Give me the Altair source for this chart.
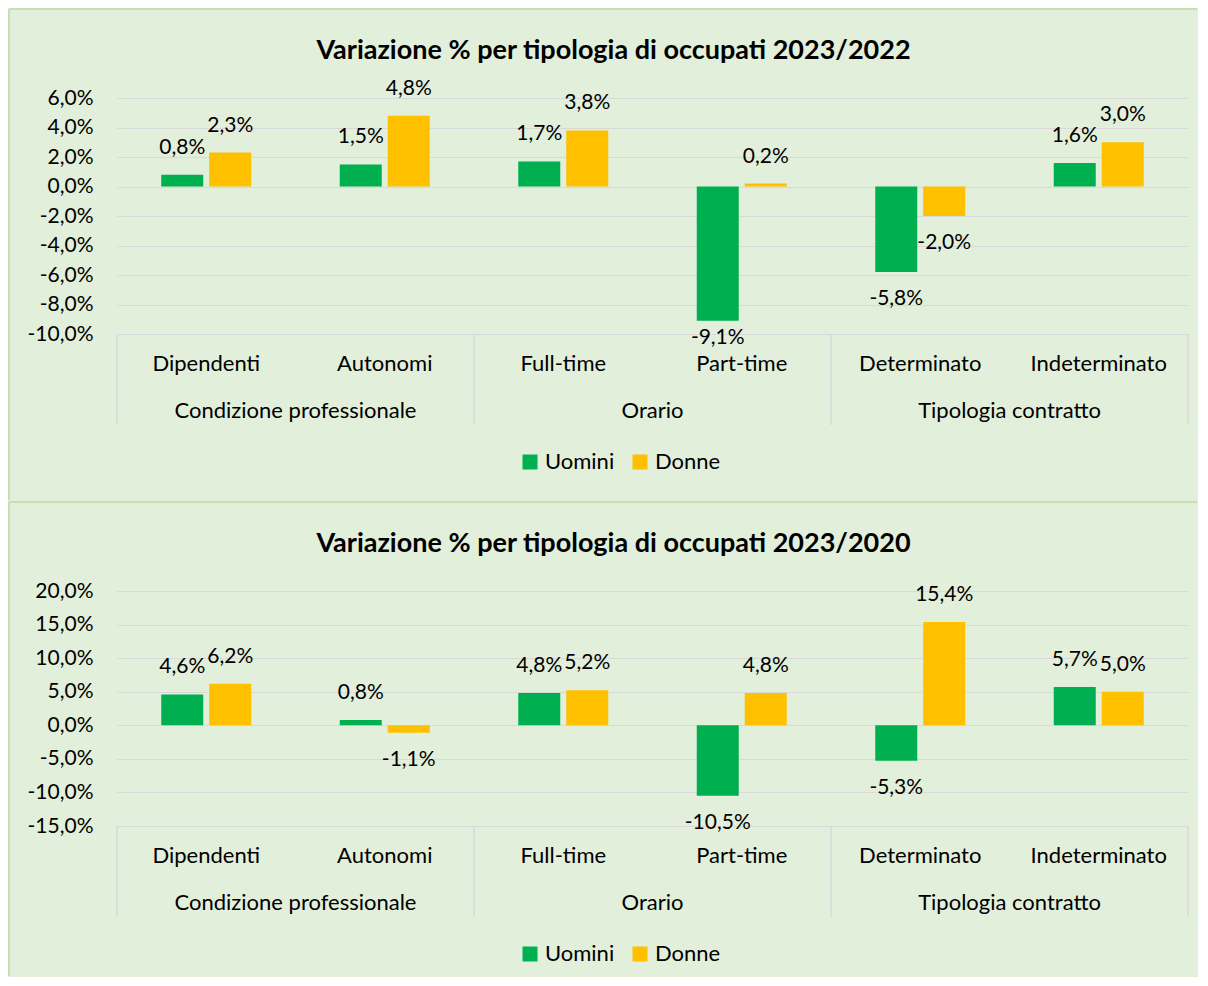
import altair as alt
import pandas as pd

categories = ["Dipendenti", "Autonomi", "Full-time", "Part-time", "Determinato", "Indeterminato"]
groups = ["Condizione professionale", "Orario", "Tipologia contratto"]
series = ["Uomini", "Donne"]

uomini_2022 = [0.8, 1.5, 1.7, -9.1, -5.8, 1.6]
donne_2022 = [2.3, 4.8, 3.8, 0.2, -2.0, 3.0]
uomini_2020 = [4.6, 0.8, 4.8, -10.5, -5.3, 5.7]
donne_2020 = [6.2, -1.1, 5.2, 4.8, 15.4, 5.0]

ticks_2022 = [-10, -8, -6, -4, -2, 0, 2, 4, 6]
ticks_2020 = [-15, -10, -5, 0, 5, 10, 15, 20]

title_2022 = "Variazione % per tipologia di occupati 2023/2022"
title_2020 = "Variazione % per tipologia di occupati 2023/2020"

FONT = "Lato"
GREEN = "#00B050"
ORANGE = "#FFC000"
GRID = "#D9D9D9"
BORDER = "#C6E0B4"
BG = "#E2EFDA"
TXT = "#000000"
W = 1071
NUM = 21
WORD = 22
FMT_AXIS = "replace(replace(format(datum.value, '.1f'), '.', ','), '\u2212', '-') + '%'"
FMT_LAB = "replace(replace(format(datum.v, '.1f'), '.', ','), '\u2212', '-') + '%'"


def panel(title, u, d, ticks, H, top_y, left_y2):
    df = pd.DataFrame({
        "cat": categories * 2,
        "series": [series[0]] * len(categories) + [series[1]] * len(categories),
        "v": u + d,
    })
    ymin, ymax = ticks[0], ticks[-1]
    # lowest anchor for a label so that it does not drop more than ~4px below the plot
    clamp = ymin + 23.0 / H * (ymax - ymin)
    xs = alt.Scale(domain=categories, paddingInner=0, paddingOuter=0)
    xo = alt.Scale(domain=series, paddingInner=0.125, paddingOuter=0.922)
    ys = alt.Scale(domain=[ymin, ymax], nice=False)
    y_axis = alt.Axis(values=ticks, labelExpr=FMT_AXIS, title=None, grid=True,
                      gridColor=GRID, domain=False, ticks=False, labelPadding=24,
                      labelOverlap=False, labelFontSize=NUM, tickCount=len(ticks))

    base = alt.Chart(df)
    bars = base.mark_bar().encode(
        x=alt.X("cat:N", scale=xs, axis=None),
        xOffset=alt.XOffset("series:N", scale=xo),
        y=alt.Y("v:Q", scale=ys, stack=None, axis=y_axis),
        color=alt.Color("series:N", scale=alt.Scale(domain=series, range=[GREEN, ORANGE]),
                        legend=alt.Legend(title=None, orient="none", direction="horizontal",
                                          legendX=402, legendY=H + 117, symbolType="square",
                                          symbolSize=225, symbolStrokeWidth=0, labelOffset=4,
                                          columnPadding=14, padding=0, labelFontSize=WORD,
                                          labelFont=FONT, labelColor=TXT)),
    )
    lab = base.transform_calculate(lab=FMT_LAB, ly=f"max(datum.v, {clamp})")
    pos = lab.transform_filter("datum.v >= 0").mark_text(
        dy=-27, baseline="middle", fontSize=NUM, font=FONT, color=TXT
    ).encode(x="cat:N", xOffset="series:N", y=alt.Y("ly:Q", axis=y_axis), text="lab:N")
    neg = lab.transform_filter("datum.v < 0").mark_text(
        dy=27, baseline="middle", fontSize=NUM, font=FONT, color=TXT
    ).encode(x="cat:N", xOffset="series:N", y=alt.Y("ly:Q", axis=y_axis), text="lab:N")

    cdf = pd.DataFrame({"c": categories})
    clab = alt.Chart(cdf).mark_text(baseline="middle", fontSize=WORD, font=FONT, color=TXT).encode(
        x="c:N", y=alt.value(H + 30), text="c:N")

    gdf = pd.DataFrame({"first": categories[0::2], "g": groups})
    glab = alt.Chart(gdf).mark_text(baseline="middle", fontSize=WORD, font=FONT, color=TXT).encode(
        x=alt.X("first:N", bandPosition=1), y=alt.value(H + 77), text="g:N")

    sep = alt.Chart(pd.DataFrame({"edge": categories[0::2]})).mark_rule(color=GRID, strokeWidth=1.5).encode(
        x=alt.X("edge:N", bandPosition=0), y=alt.value(H), y2=alt.value(H + 91))
    sep_end = alt.Chart(pd.DataFrame({"edge": categories[-1:]})).mark_rule(color=GRID, strokeWidth=1.5).encode(
        x=alt.X("edge:N", bandPosition=1), y=alt.value(H), y2=alt.value(H + 91))

    one = pd.DataFrame({"k": [0]})
    top_line = alt.Chart(one).mark_rule(color=BORDER, strokeWidth=2).encode(
        x=alt.value(-108), x2=alt.value(1080), y=alt.value(top_y))
    left_line = alt.Chart(one).mark_rule(color=BORDER, strokeWidth=2).encode(
        x=alt.value(-108), y=alt.value(top_y), y2=alt.value(left_y2))

    return alt.layer(bars, pos, neg, clab, glab, sep, sep_end, top_line, left_line).properties(
        width=W, height=H,
        title=alt.TitleParams(title, fontSize=27, font=FONT, fontWeight="bold", color=TXT,
                              anchor="middle", offset=-57, dx=-39),
    )


top = panel(title_2022, uomini_2022, donne_2022, ticks_2022, 236, -89, 402)
bottom = panel(title_2020, uomini_2020, donne_2020, ticks_2020, 235, -89, 385)

chart = alt.vconcat(top, bottom, spacing=0).resolve_scale(color="independent").properties(
    padding={"left": 0, "top": 0, "right": 0, "bottom": 0},
    background=BG,
).configure_view(stroke=None).configure_axis(
    labelFont=FONT, labelFontSize=NUM, labelColor=TXT
)

chart.save("out.html", embed_options={"renderer": "svg", "actions": False})
